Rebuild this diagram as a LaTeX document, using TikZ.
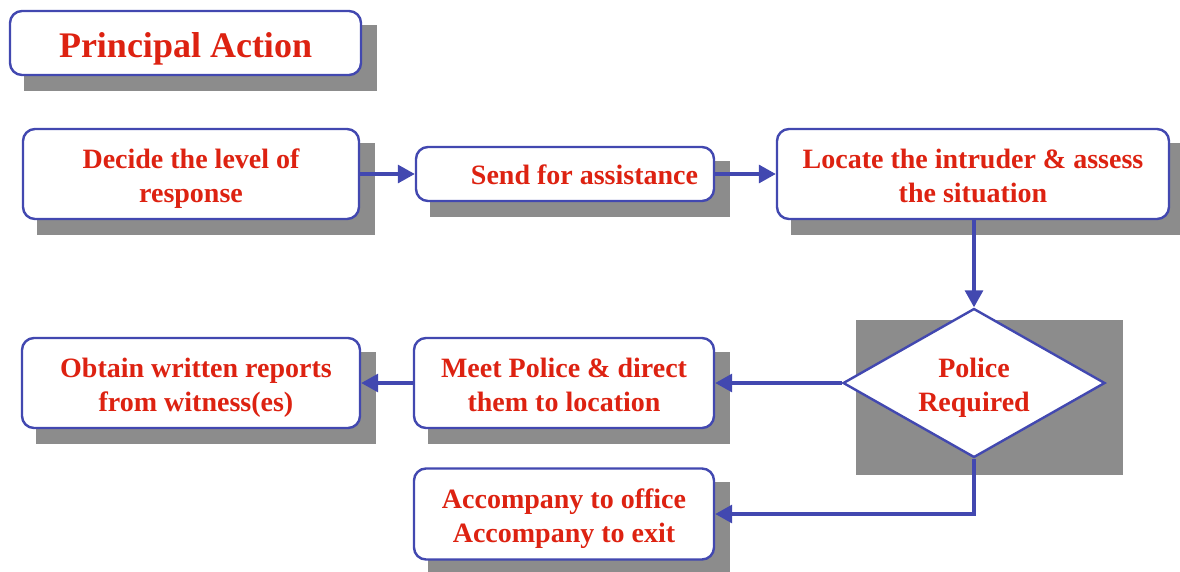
\documentclass[tikz,border=0pt]{standalone}
\usepackage{fontspec}
\setmainfont{Liberation Serif}
\usetikzlibrary{shapes.geometric,arrows.meta,backgrounds}
\definecolor{bblue}{RGB}{66,72,176}
\definecolor{tred}{RGB}{221,34,17}
\definecolor{sgray}{RGB}{140,140,140}
\begin{document}
\begin{tikzpicture}[x=1pt,y=-1pt,
  box/.style={draw=bblue, line width=2.4pt, rounded corners=12pt, fill=white, text=tred,
    font=\bfseries\fontsize{28}{34}\selectfont, align=center, inner sep=0pt},
  dec/.style={diamond, draw=bblue, line width=2.4pt, fill=white, text=tred,
    font=\bfseries\fontsize{28}{34}\selectfont, align=center, inner sep=0pt, aspect=1.76},
  twoline/.style={text height=56pt, text depth=0pt},
  oneline/.style={text height=21pt, text depth=0pt},
  conn/.style={draw=bblue, line width=3.2pt, -{Triangle[length=17pt,width=18pt]}},
  shade/.style={fill=sgray, draw=none}]
\useasboundingbox (0,0) rectangle (1180,571);

\node[box, minimum width=351pt, minimum height=64pt, font=\bfseries\fontsize{36}{42}\selectfont, text height=28pt, text depth=0pt] (title) at (185.5,43) {Principal Action};
\node[box, twoline, minimum width=336pt, minimum height=90pt] (decide) at (191,174) {Decide the level of\\response};
\node[box, oneline, minimum width=298pt, minimum height=54pt] (send) at (565,174) {\hspace*{39pt}Send for assistance};
\node[box, twoline, minimum width=392pt, minimum height=90pt] (locate) at (973,174) {Locate the intruder \& assess\\the situation};
\node[dec, twoline, minimum width=262pt, minimum height=149pt] (police) at (974,383) {Police\\Required};
\node[box, twoline, minimum width=300pt, minimum height=90pt] (meet) at (564,383) {Meet Police \& direct\\them to location};
\node[box, twoline, minimum width=338pt, minimum height=90pt] (obtain) at (191,383) {\hspace*{10pt}Obtain written reports\\\hspace*{10pt}from witness(es)};
\node[box, twoline, minimum width=300pt, minimum height=91pt] (acc) at (564,514) {Accompany to office\\Accompany to exit};

\path (police.west |- police.north) coordinate (pnw) (police.east |- police.south) coordinate (pse);

\begin{scope}[on background layer]
  \foreach \n in {title,decide,send,locate,meet,obtain,acc}{
    \fill[shade] ([shift={(15,15)}]\n.south west) rectangle ([shift={(15,15)}]\n.north east);
  }
  \fill[shade] ([shift={(14,13)}]pnw) rectangle ([shift={(17,16)}]pse);
\end{scope}

\draw[conn] (decide.east) -- (send.west);
\draw[conn] (send.east) -- (locate.west);
\draw[conn] (locate.south -| police.north) -- (police.north);
\draw[conn] (police.west) -- (meet.east);
\draw[conn] (meet.west) -- (obtain.east);
\draw[conn] (police.south) |- (acc.east);
\end{tikzpicture}
\end{document}
